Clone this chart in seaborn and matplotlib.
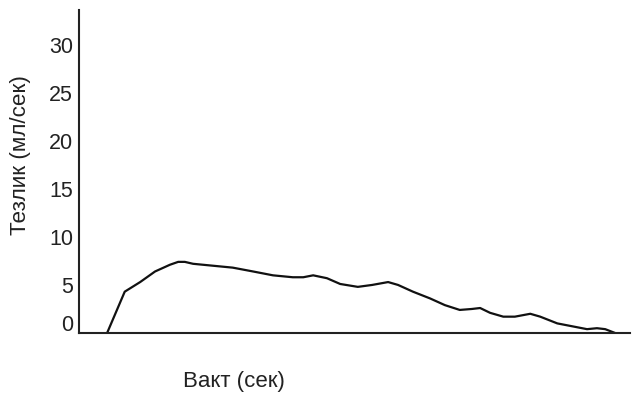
import matplotlib
matplotlib.use("Agg")
import matplotlib.pyplot as plt
import matplotlib.transforms as mtransforms
import seaborn as sns
import pandas as pd

# Flow curve readings: time (s) and rate (ml/s)
time_s = [5.1, 8.3, 11.1, 13.8, 16.5, 18.0, 19.2, 20.7, 24.3, 27.9, 31.6,
          35.2, 38.8, 40.7, 42.5, 45.0, 47.4, 50.6, 53.2, 56.1, 57.9, 60.6,
          63.7, 66.4, 69.1, 71.3, 72.8, 74.6, 77.0, 79.1, 81.9, 83.7, 86.8,
          89.5, 92.2, 94.0, 95.5, 97.3]
rate = [0.0, 4.3, 5.3, 6.4, 7.1, 7.4, 7.4, 7.2, 7.0, 6.8, 6.4,
        6.0, 5.8, 5.8, 6.0, 5.7, 5.1, 4.8, 5.0, 5.3, 5.0, 4.3,
        3.6, 2.9, 2.4, 2.5, 2.6, 2.1, 1.7, 1.7, 2.0, 1.7, 1.0,
        0.7, 0.4, 0.5, 0.4, 0.0]
y_ticks = [0, 5, 10, 15, 20, 25, 30]

df = pd.DataFrame({"t": time_s, "q": rate})

sns.set_theme(style="white")
plt.rcParams["font.family"] = ["Liberation Sans", "DejaVu Sans"]

fig = plt.figure(figsize=(6.33, 3.94), dpi=100)
ax = fig.add_axes([0.1248, 0.1548, 0.8705, 0.8198])

sns.lineplot(data=df, x="t", y="q", ax=ax, color="#111111", linewidth=1.6,
             estimator=None, sort=False)

ax.set_xlim(0, 100)
ax.set_ylim(0, 33.6)
ax.set_xticks([])
ax.set_yticks(y_ticks)
ax.set_yticklabels([str(v) for v in y_ticks])
ax.tick_params(axis="y", length=0, pad=4.3, labelsize=15.5, labelcolor="#222222")

# lift the "0" label slightly off the baseline
lbl0 = ax.get_yticklabels()[0]
lbl0.set_transform(lbl0.get_transform() +
                   mtransforms.ScaledTranslation(0, 10 / 100, fig.dpi_scale_trans))

for side in ("top", "right"):
    ax.spines[side].set_visible(False)
for side in ("left", "bottom"):
    ax.spines[side].set_color("#222222")
    ax.spines[side].set_linewidth(1.5)

ax.set_xlabel("Вакт (сек)", fontsize=16, color="#222222")
ax.set_ylabel("Тезлик (мл/сек)", fontsize=16.2, color="#222222")
ax.xaxis.set_label_coords(0.282, -0.117)
ax.yaxis.set_label_coords(-0.087, 0.551)

fig.savefig("out.png", dpi=100)
